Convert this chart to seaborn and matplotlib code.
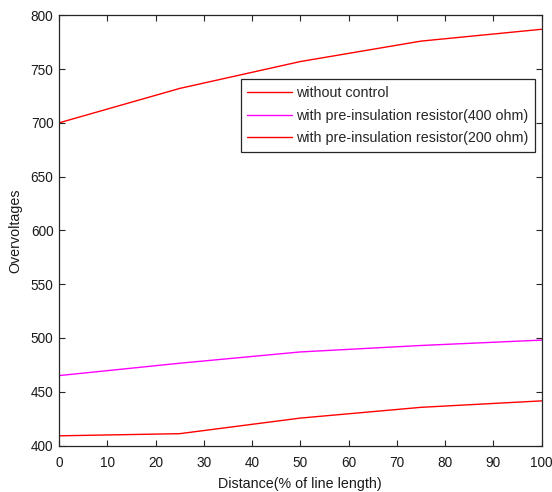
import matplotlib
matplotlib.use("Agg")
import matplotlib.pyplot as plt
import seaborn as sns
import pandas as pd

# Distance along the line (% of line length)
distance = [0, 25, 50, 75, 100]

# Overvoltage profiles for each switching scenario
without_control = [700, 732, 757, 776, 787]
resistor_400 = [465, 476.5, 487, 493, 498]
resistor_200 = [409, 411, 425.5, 435.5, 441.5]

series_names = [
    "without control",
    "with pre-insulation resistor(400 ohm)",
    "with pre-insulation resistor(200 ohm)",
]
series_values = [without_control, resistor_400, resistor_200]
series_colors = ["#ff0000", "#ff00ff", "#ff0000"]

x_ticks = [0, 10, 20, 30, 40, 50, 60, 70, 80, 90, 100]
y_ticks = [400, 450, 500, 550, 600, 650, 700, 750, 800]

frames = []
for name, vals in zip(series_names, series_values):
    frames.append(pd.DataFrame({"Distance": distance, "Overvoltage": vals, "Case": name}))
df = pd.concat(frames, ignore_index=True)

sns.set_style("ticks")
plt.rcParams["font.family"] = ["Liberation Sans", "DejaVu Sans"]
plt.rcParams["xtick.direction"] = "in"
plt.rcParams["ytick.direction"] = "in"

fig = plt.figure(figsize=(5.52, 4.92), dpi=100)
ax = fig.add_axes([0.1069, 0.0945, 0.8744, 0.8744])

sns.lineplot(
    data=df, x="Distance", y="Overvoltage", hue="Case",
    hue_order=series_names, palette=series_colors,
    linewidth=1.0, ax=ax, legend=True,
)

ax.set_xlim(0, 100)
ax.set_ylim(400, 800)
ax.set_xticks(x_ticks)
ax.set_yticks(y_ticks)
ax.tick_params(axis="both", which="both", top=True, right=True,
               length=4, width=0.8, color="#262626", labelsize=9.8,
               labelcolor="#1a1a1a")
ax.tick_params(axis="x", pad=7.5)
ax.tick_params(axis="y", pad=4)
for side in ["left", "right", "top", "bottom"]:
    ax.spines[side].set_visible(True)
    ax.spines[side].set_linewidth(0.9)
    ax.spines[side].set_color("#262626")

ax.set_xlabel("Distance(% of line length)", fontsize=10.25, color="#1a1a1a", labelpad=5)
ax.set_ylabel("Overvoltages", fontsize=10.25, color="#1a1a1a", labelpad=6)

leg = ax.legend(
    loc="upper right", bbox_to_anchor=(0.986, 0.851), borderaxespad=0,
    fontsize=10.3, frameon=True, fancybox=False, framealpha=1,
    edgecolor="#262626", handlelength=3.15, handletextpad=0.28,
    labelspacing=0.62, borderpad=0.44,
)
leg.get_frame().set_linewidth(0.9)

fig.savefig("out.png", dpi=100)
